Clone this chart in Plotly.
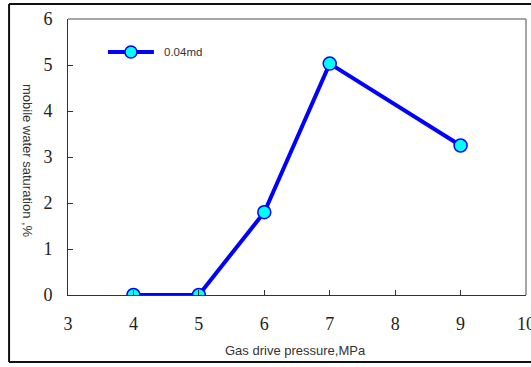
import plotly.graph_objects as go

pressure = [4, 5, 6, 7, 9]
saturation = [0, 0, 1.8, 5.03, 3.25]
series_name = "0.04md"
x_ticks = [3, 4, 5, 6, 7, 8, 9, 10]
y_ticks = [0, 1, 2, 3, 4, 5, 6]

W, H = 531, 367
L, R, T, B = 68, 4.5, 19, 72
pw, ph = W - L - R, H - T - B

def px2paper_x(px):
    return (px - L) / pw

def px2paper_y(py):
    return (H - B - py) / ph

BLUE = "#0000FF"
CYAN = "#00FFFF"

fig = go.Figure()
fig.add_trace(go.Scatter(
    x=pressure, y=saturation, name=series_name, mode="lines+markers",
    line=dict(color=BLUE, width=4),
    marker=dict(size=13, color=CYAN, line=dict(color=BLUE, width=1.5)),
    showlegend=False, hoverinfo="skip",
))

tick_font = dict(family="Liberation Serif, Times New Roman, serif", size=18, color="#222")
fig.update_xaxes(range=[3, 10], tickvals=x_ticks, ticks="inside", ticklen=5, tickcolor="#333",
                 showline=True, linecolor="#333", linewidth=1, showgrid=False, zeroline=False,
                 tickfont=tick_font, ticklabelstandoff=12, ticklabeloverflow="allow",
                 automargin=False)
fig.update_yaxes(range=[0, 6], tickvals=y_ticks, ticks="inside", ticklen=5, tickcolor="#333",
                 showline=True, linecolor="#333", linewidth=1, showgrid=False, zeroline=False,
                 tickfont=tick_font, ticklabelstandoff=11, ticklabeloverflow="allow",
                 automargin=False)

# top and right border of plot area (gray)
fig.add_shape(type="line", xref="paper", yref="paper", x0=0, x1=1, y0=1, y1=1,
              line=dict(color="#888", width=1.5))
fig.add_shape(type="line", xref="paper", yref="paper", x0=1, x1=1, y0=0, y1=1,
              line=dict(color="#888", width=1.5))
# outer chart border (right edge lies outside the view)
xl, xr = px2paper_x(9), px2paper_x(560)
yt, yb = px2paper_y(4), px2paper_y(362)
for (a, b, c, d) in [(xl, yt, xr, yt), (xl, yb, xr, yb), (xl, yb, xl, yt)]:
    fig.add_shape(type="line", xref="paper", yref="paper", x0=a, y0=b, x1=c, y1=d,
                  line=dict(color="#111", width=2), layer="below")

# legend (drawn manually to match the long sample line)
ly = px2paper_y(52)
fig.add_shape(type="line", xref="paper", yref="paper", x0=px2paper_x(108), x1=px2paper_x(154),
              y0=ly, y1=ly, line=dict(color=BLUE, width=4))
fig.add_shape(type="circle", xref="paper", yref="paper", xsizemode="pixel", ysizemode="pixel",
              xanchor=px2paper_x(131), yanchor=ly, x0=-6, x1=6, y0=-6, y1=6,
              fillcolor=CYAN, line=dict(color=BLUE, width=1.5))
fig.add_annotation(text=series_name, xref="paper", yref="paper", x=px2paper_x(162), y=ly,
                   xanchor="left", yanchor="middle", showarrow=False,
                   font=dict(family="Liberation Sans, Arial, sans-serif", size=11.5, color="#333"))

lab_font = dict(family="Liberation Sans, Arial, sans-serif", size=13, color="#333")
fig.add_annotation(text="Gas drive pressure,MPa", xref="paper", yref="paper",
                   x=px2paper_x(296), y=px2paper_y(350), xanchor="center", yanchor="middle",
                   showarrow=False, font=lab_font)
fig.add_annotation(text="mobile water saturation ,%", xref="paper", yref="paper",
                   x=px2paper_x(28), y=px2paper_y(161), xanchor="center", yanchor="middle",
                   showarrow=False, textangle=90, font=lab_font)

fig.update_layout(
    width=W, height=H, margin=dict(l=L, r=R, t=T, b=B, autoexpand=False),
    paper_bgcolor="white", plot_bgcolor="white",
    showlegend=False, hovermode=False,
)
fig.write_html("out.html", config={"displayModeBar": False},
               post_script="document.body.style.margin='0';document.body.style.overflow='hidden';")
